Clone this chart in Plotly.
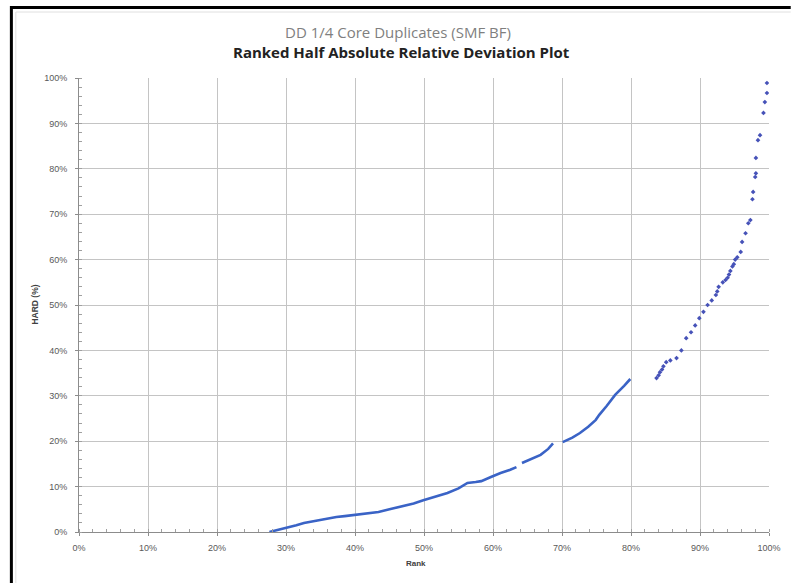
import plotly.graph_objects as go

# Dense, nearly continuous part of the ranked curve (gaps marked with None)
rank_dense = [0.276, 0.29, 0.30, 0.315, 0.326, 0.34, 0.35, 0.36, 0.373, 0.385, 0.40, 0.415,
              0.434, 0.45, 0.469, 0.485, 0.499, 0.515, 0.534, 0.55, 0.563, 0.575, 0.583,
              0.597, 0.611, 0.625, 0.634, None,
              0.642, 0.655, 0.669, 0.68, 0.687, None,
              0.701, 0.715, 0.726, 0.738, 0.749, 0.754, 0.765, 0.777, 0.79, 0.799]
hard_dense = [0.0, 0.005, 0.009, 0.015, 0.02, 0.024, 0.027, 0.03, 0.033, 0.035, 0.038, 0.041,
              0.044, 0.05, 0.057, 0.063, 0.07, 0.077, 0.086, 0.096, 0.108, 0.11, 0.112,
              0.121, 0.13, 0.137, 0.143, None,
              0.152, 0.16, 0.17, 0.183, 0.195, None,
              0.198, 0.208, 0.218, 0.232, 0.247, 0.258, 0.278, 0.302, 0.322, 0.337]

# Sparse upper part of the ranked curve
rank_sparse = [0.837, 0.840, 0.842, 0.845, 0.847, 0.851, 0.857, 0.866, 0.873, 0.88, 0.887,
               0.893, 0.899, 0.905, 0.911, 0.917, 0.923, 0.925, 0.927, 0.933, 0.937, 0.94,
               0.942, 0.944, 0.947, 0.949, 0.951, 0.954, 0.959, 0.961, 0.966, 0.970, 0.973,
               0.976, 0.977, 0.980, 0.981, 0.981, 0.984, 0.987, 0.992, 0.994, 0.997, 0.997]
hard_sparse = [0.339, 0.345, 0.352, 0.358, 0.365, 0.374, 0.378, 0.383, 0.40, 0.427, 0.44,
               0.455, 0.471, 0.485, 0.50, 0.51, 0.522, 0.53, 0.54, 0.55, 0.555, 0.56,
               0.567, 0.575, 0.585, 0.59, 0.60, 0.605, 0.617, 0.639, 0.658, 0.68, 0.687,
               0.733, 0.749, 0.782, 0.79, 0.824, 0.863, 0.874, 0.923, 0.947, 0.967, 0.989]

title_top = "DD 1/4 Core Duplicates (SMF BF)"
title_main = "Ranked Half Absolute Relative Deviation Plot"
x_title = "Rank"
y_title = "HARD (%)"

fig = go.Figure()
fig.add_trace(go.Scatter(x=rank_dense, y=hard_dense, mode="lines",
                         line=dict(color="#3a63c6", width=2.6), connectgaps=False,
                         showlegend=False, hoverinfo="x+y"))
fig.add_trace(go.Scatter(x=rank_sparse, y=hard_sparse, mode="markers",
                         marker=dict(symbol="diamond", size=3.6, color="#4652b8"),
                         showlegend=False))

tickfont = dict(family="Liberation Sans, Arial, sans-serif", size=9, color="#595959")
axis_common = dict(range=[0, 1], dtick=0.1, tickformat=".0%", showgrid=True,
                   gridcolor="#c4c4c4", gridwidth=1, showline=True, linecolor="#8c8c8c",
                   linewidth=1, zeroline=False, ticks="outside", ticklen=3,
                   tickcolor="#8c8c8c", tickfont=tickfont,
                   minor=dict(dtick=0.02, ticks="inside", ticklen=3, tickcolor="#a0a0a0",
                              showgrid=False))

fig.update_xaxes(**axis_common, ticklabelstandoff=4)
fig.update_yaxes(**axis_common, ticklabelstandoff=6)

W, H = 793, 583
L, R, T, B = 79, 15, 78, 51
pw, ph = W - L - R, H - T - B


def px(x):
    return (x - L) / pw


def py(y):
    return (H - B - y) / ph


annotations = [
    dict(text=title_top, x=px(402), y=py(32), xref="paper", yref="paper", showarrow=False,
         font=dict(family="Open Sans, sans-serif", size=15, color="#7f7f7f"),
         xanchor="center", yanchor="middle"),
    dict(text="<b>" + title_main + "</b>", x=px(406), y=py(52), xref="paper", yref="paper",
         showarrow=False, font=dict(family="Open Sans, sans-serif", size=15, color="#222222"),
         xanchor="center", yanchor="middle"),
    dict(text="<b>" + x_title + "</b>", x=px(420), y=py(563), xref="paper", yref="paper",
         showarrow=False, font=dict(family="Liberation Sans, sans-serif", size=8, color="#404040"),
         xanchor="center", yanchor="middle"),
    dict(text="<b>" + y_title + "</b>", x=px(34), y=py(305), xref="paper", yref="paper",
         showarrow=False, textangle=-90,
         font=dict(family="Liberation Sans, sans-serif", size=8.5, color="#404040"),
         xanchor="center", yanchor="middle"),
]

shapes = [
    dict(type="path", xref="paper", yref="paper",
         path=f"M {px(10.5)} {py(590)} L {px(10.5)} {py(7.5)} L {px(800)} {py(7.5)}",
         line=dict(color="black", width=3)),
    dict(type="path", xref="paper", yref="paper",
         path=f"M {px(15)} {py(590)} L {px(15)} {py(12)} L {px(800)} {py(12)}",
         line=dict(color="#e0e0e0", width=1)),
]

fig.update_layout(width=W, height=H, margin=dict(l=L, r=R, t=T, b=B),
                  paper_bgcolor="white", plot_bgcolor="white",
                  annotations=annotations, shapes=shapes, showlegend=False)

fig.write_html("out.html")
